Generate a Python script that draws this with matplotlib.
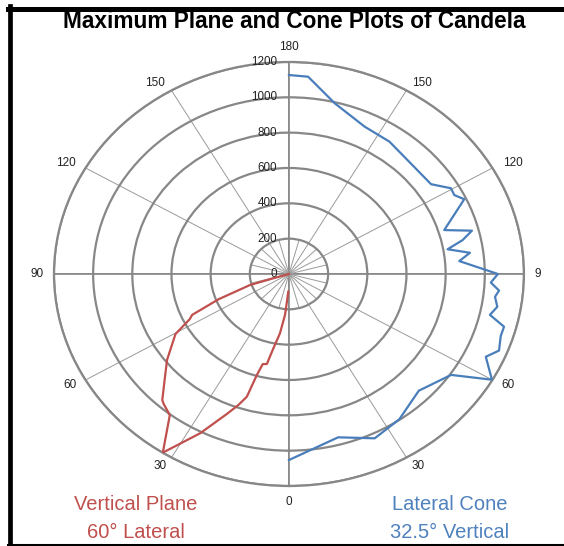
import numpy as np
import matplotlib.pyplot as plt
import matplotlib.transforms as mtransforms
from matplotlib.lines import Line2D

plt.rcParams['font.family'] = ['Liberation Sans', 'DejaVu Sans']

# Vertical plane at 60 deg lateral (drawn on the left half): angle [deg], candela
vp_angle = [2, 4, 5, 7.8, 10.7, 12.5, 14.7, 16, 17.2, 19.2, 21.8, 26.7, 32.5,
            37.3, 41, 42.2, 46.6, 52, 59.6, 63.2, 64.9, 68.3, 72.6, 73, 75]
vp_cd = [100, 166, 233, 339, 428, 522, 527, 595, 727, 785, 853, 1009, 1199,
         1004, 975, 963, 874, 790, 672, 568, 546, 387, 208, 83, 0]

# Lateral cone at 32.5 deg vertical (drawn on the right half)
lc_angle = [180, 175, 166.4, 155.1, 145.6, 125, 120.4, 117.9, 115.3, 107.4,
            104.7, 102.2, 99.8, 97.4, 94.8, 90, 87.3, 85, 83, 80.1, 77.3,
            74.8, 72, 68, 65, 60, 55.4, 45.1, 34.4, 25.2, 15.2, 0]
lc_cd = [1126, 1121, 994, 919, 908, 886, 959, 955, 990, 831,
         966, 907, 822, 932, 873, 1067, 1032, 1077, 1060, 1080, 1052,
         1138, 1137, 1157, 1109, 1197, 1006, 936, 997, 1028, 958, 1053]

theta_ticks = list(range(0, 360, 30))
theta_labels = ['0', '30', '60', '90', '120', '150', '180',
                '150', '120', '9', '60', '30']
r_ticks = [0, 200, 400, 600, 800, 1000, 1200]

# pixel offsets of the angle labels from the end of each spoke
lab_dx = [0, -11.5, -15.5, -17, -20, -16, 0, 16, 20, 14, 15.5, 11.5]
lab_dy = [-16, -8, -5, 0, 5, 7.4, 15, 7.4, 5, 0, -5, -8]

red = '#C0504D'
blue = '#4A7EBB'
grid_col = '#878787'

fig = plt.figure(figsize=(5.64, 5.46), dpi=100)
ax = fig.add_axes([0.0957, 0.1099, 0.8333, 0.7766], projection='polar')
ax.set_aspect('auto')
ax.set_theta_zero_location('S')
ax.set_theta_direction(-1)
ax.set_ylim(0, 1200)

ax.set_yticks(r_ticks[1:])
ax.set_yticklabels([])
ax.set_xticks(np.deg2rad(theta_ticks))
ax.set_xticklabels([])
ax.yaxis.grid(True, color=grid_col, lw=1.6)
ax.xaxis.grid(True, color='#9a9a9a', lw=0.7)
ax.spines['polar'].set_color(grid_col)
ax.spines['polar'].set_linewidth(1.6)

# main axis lines (vertical and horizontal) are heavier
for a in [0, 90, 180, 270]:
    ax.axvline(np.deg2rad(a), color=grid_col, lw=1.4, zorder=1)

# short spokes near the centre
for a in np.arange(15, 360, 30):
    ax.plot([np.deg2rad(a)] * 2, [0, 200], color='#9a9a9a', lw=0.7, zorder=1)

# angle labels around the outside
for a, lab, dx, dy in zip(theta_ticks, theta_labels, lab_dx, lab_dy):
    tr = mtransforms.offset_copy(ax.transData, fig=fig, x=dx, y=dy, units='dots')
    ax.text(np.deg2rad(a), 1200, lab, transform=tr, ha='center', va='center',
            fontsize=8.5, color='#222222', clip_on=False)

# radial value labels along the top axis
lab_tr = mtransforms.offset_copy(ax.transData, fig=fig, x=-12, y=0, units='dots')
for r in r_ticks:
    ax.text(np.pi, r, str(r), transform=lab_tr, ha='right', va='center',
            fontsize=8.4, color='#222222')

ax.plot(np.deg2rad(vp_angle), vp_cd, color=red, lw=1.6, zorder=3)
ax.plot(-np.deg2rad(lc_angle), lc_cd, color=blue, lw=1.6, zorder=3)

fig.text(294 / 564, 1 - 21 / 546, 'Maximum Plane and Cone Plots of Candela',
         fontsize=16.3, fontweight='bold', ha='center', va='center')
fig.text(136 / 564, 1 - 504 / 546, 'Vertical Plane', color=red, fontsize=14.5,
         ha='center', va='center')
fig.text(136 / 564, 1 - 532 / 546, '60° Lateral', color=red, fontsize=14.5,
         ha='center', va='center')
fig.text(450 / 564, 1 - 504 / 546, 'Lateral Cone', color='#4F81BD', fontsize=14.5,
         ha='center', va='center')
fig.text(450 / 564, 1 - 532 / 546, '32.5° Vertical', color='#4F81BD', fontsize=14.5,
         ha='center', va='center')

# black frame (top, left, bottom)
W, H = 564, 546
fig.add_artist(Line2D([8 / W, 1], [1 - 8.5 / H] * 2, color='black', lw=3.6))
fig.add_artist(Line2D([10.4 / W] * 2, [1 - 6 / H, 0], color='black', lw=3.4))
fig.add_artist(Line2D([8 / W, 1], [1 - 545 / H] * 2, color='black', lw=2.2))

fig.savefig('out.png', dpi=100)
